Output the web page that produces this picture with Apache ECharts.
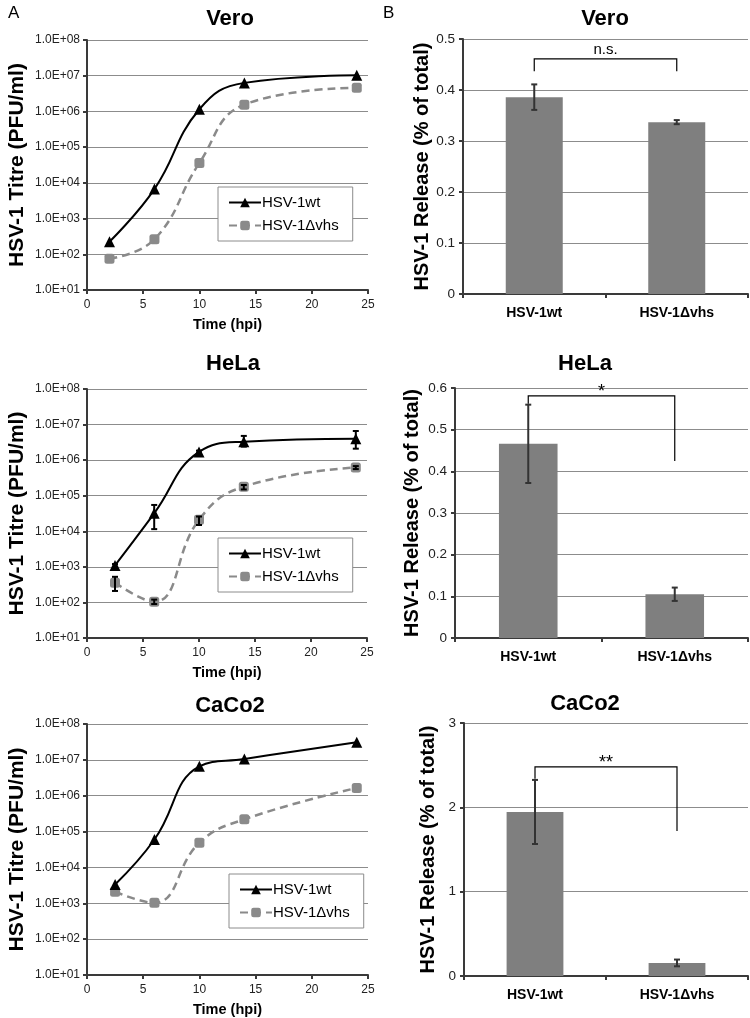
<!DOCTYPE html>
<html>
<head>
<meta charset="utf-8">
<script src="https://cdn.jsdelivr.net/npm/echarts@6/dist/echarts.min.js"></script>
<style>
html,body{margin:0;padding:0;background:#fff;}
#chart{width:750px;height:1018px;}
</style>
</head>
<body>
<div id="chart"></div>
<script>
// ---------- DATA ----------
const veroTime = [2, 6, 10, 14, 24];
const helaTime = [2.5, 6, 10, 14, 24];
const caco2Time = [2.5, 6, 10, 14, 24];

const veroWt  = [225, 6700, 1.15e6, 6.3e6, 1.03e7];
const veroVhs = [75, 263, 3.6e4, 1.55e6, 4.6e6];

const helaWt      = [1100, 3.2e4, 1.7e6, 3.3e6, 4.0e6];
const helaWtLow   = [1000, 1.15e4, 1.55e6, 2.4e6, 2.1e6];
const helaWtHigh  = [1200, 5.5e4, 1.85e6, 4.8e6, 6.6e6];
const helaVhs     = [360, 104, 2.1e4, 1.8e5, 6.2e5];
const helaVhsLow  = [210, 90, 1.5e4, 1.5e5, 5.6e5];
const helaVhsHigh = [525, 120, 2.6e4, 2.0e5, 6.8e5];

const caco2Wt  = [3350, 6.0e4, 6.6e6, 1.06e7, 3.1e7];
const caco2Vhs = [2100, 1030, 4.9e4, 2.2e5, 1.65e6];

const strains = ['HSV-1wt', 'HSV-1\u0394vhs'];
const veroRelease  = [0.386, 0.337];
const veroErr      = [0.025, 0.004];
const helaRelease  = [0.466, 0.105];
const helaErr      = [0.094, 0.016];
const caco2Release = [1.945, 0.155];
const caco2Err     = [0.38, 0.04];

// bracket: [top, left leg bottom, right leg bottom]
const veroBracket  = [0.461, 0.437, 0.437];
const helaBracket  = [0.581, 0.562, 0.425];
const caco2Bracket = [2.48, 2.34, 1.72];
const bracketLabels = ['n.s.', '*', '**'];

const titles = ['Vero', 'HeLa', 'CaCo2'];

// ---------- CHART ----------
const FONT = 'Liberation Sans, Arial, sans-serif';
const chart = echarts.init(document.getElementById('chart'));

const lineGrids = [
  {left: 87, top: 40, width: 281, height: 250},
  {left: 87, top: 389, width: 280, height: 249},
  {left: 87, top: 724, width: 281, height: 252}
];
const barGrids = [
  {left: 463, top: 39, width: 285, height: 255},
  {left: 455, top: 388, width: 293, height: 250},
  {left: 464, top: 723, width: 284, height: 253}
];
const barMax = [0.5, 0.6, 3];
const barInterval = [0.1, 0.1, 1];
const barNameGap = [30, 33, 26];

function expFmt(v) {
  const e = Math.round(Math.log10(v));
  return '1.0E+' + (e < 10 ? '0' + e : e);
}

const grids = [], xAxes = [], yAxes = [], series = [], legends = [];

const axisLineStyle = {color: '#3a3a3a', width: 2};
const gridLine = {show: true, lineStyle: {color: '#8c8c8c', width: 1}};

const lineSets = [
  {t: veroTime, wt: veroWt, vhs: veroVhs},
  {t: helaTime, wt: helaWt, vhs: helaVhs, wtLo: helaWtLow, wtHi: helaWtHigh, vLo: helaVhsLow, vHi: helaVhsHigh},
  {t: caco2Time, wt: caco2Wt, vhs: caco2Vhs}
];
const legendPos = [
  {left: 218, top: 187},
  {left: 218, top: 538},
  {left: 229, top: 874}
];

lineSets.forEach((s, i) => {
  grids.push(lineGrids[i]);
  const gi = grids.length - 1;
  xAxes.push({
    gridIndex: gi, type: 'value', min: 0, max: 25, interval: 5,
    name: 'Time (hpi)', nameLocation: 'middle', nameGap: 27,
    nameTextStyle: {fontFamily: FONT, fontWeight: 'bold', fontSize: 14.5, color: '#000'},
    axisLine: {lineStyle: axisLineStyle}, axisTick: {show: true, length: 4, lineStyle: {color: '#3a3a3a', width: 2}},
    axisLabel: {fontFamily: FONT, fontSize: 12, color: '#222', margin: 9},
    splitLine: {show: false}
  });
  yAxes.push({
    gridIndex: gi, type: 'log', logBase: 10, min: 10, max: 1e8,
    name: 'HSV-1 Titre (PFU/ml)', nameLocation: 'middle', nameGap: 59, nameRotate: 90,
    nameTextStyle: {fontFamily: FONT, fontWeight: 'bold', fontSize: 21, color: '#000'},
    axisLine: {show: true, lineStyle: axisLineStyle}, axisTick: {show: true, length: 4, lineStyle: {color: '#3a3a3a', width: 2}},
    axisLabel: {fontFamily: FONT, fontSize: 12, color: '#222', margin: 7, formatter: expFmt},
    splitLine: gridLine, minorTick: {show: false}
  });
  series.push({
    name: strains[0], type: 'line', xAxisIndex: gi, yAxisIndex: gi, smooth: 0.45,
    data: s.t.map((x, k) => [x, s.wt[k]]),
    symbol: 'triangle', symbolSize: 11,
    itemStyle: {color: '#000'}, lineStyle: {color: '#000', width: 2}, z: 4
  });
  series.push({
    name: strains[1], type: 'line', xAxisIndex: gi, yAxisIndex: gi, smooth: 0.45,
    data: s.t.map((x, k) => [x, s.vhs[k]]),
    symbol: 'roundRect', symbolSize: 10,
    itemStyle: {color: '#8a8a8a'}, lineStyle: {color: '#8a8a8a', width: 2.5, type: [8, 5]}, z: 3
  });
  if (s.wtLo) {
    const errData = [];
    s.t.forEach((x, k) => { errData.push([x, s.wtLo[k], s.wtHi[k]]); errData.push([x, s.vLo[k], s.vHi[k]]); });
    series.push({
      type: 'custom', xAxisIndex: gi, yAxisIndex: gi, z: 6, silent: true,
      data: errData,
      renderItem: function (params, api) {
        const lo = api.coord([api.value(0), api.value(1)]);
        const hi = api.coord([api.value(0), api.value(2)]);
        const w = 3;
        const st = {stroke: '#000', lineWidth: 2};
        return {type: 'group', children: [
          {type: 'line', shape: {x1: lo[0], y1: lo[1], x2: hi[0], y2: hi[1]}, style: st},
          {type: 'line', shape: {x1: lo[0] - w, y1: lo[1], x2: lo[0] + w, y2: lo[1]}, style: st},
          {type: 'line', shape: {x1: hi[0] - w, y1: hi[1], x2: hi[0] + w, y2: hi[1]}, style: st}
        ]};
      }
    });
  }
  legends.push({
    left: legendPos[i].left, top: legendPos[i].top, orient: 'vertical',
    data: strains, backgroundColor: '#fff', borderColor: '#8c8c8c', borderWidth: 1,
    padding: [8, 14, 8, 10], itemGap: 8, itemWidth: 32, itemHeight: 12,
    textStyle: {fontFamily: FONT, fontSize: 15, color: '#000', padding: [0, 0, 0, -4]},
    selectedMode: false
  });
});

const barSets = [
  {v: veroRelease, e: veroErr, b: veroBracket},
  {v: helaRelease, e: helaErr, b: helaBracket},
  {v: caco2Release, e: caco2Err, b: caco2Bracket}
];

barSets.forEach((s, i) => {
  grids.push(barGrids[i]);
  const gi = grids.length - 1;
  xAxes.push({
    gridIndex: gi, type: 'category', data: strains,
    axisLine: {lineStyle: axisLineStyle}, axisTick: {show: true, length: 4, lineStyle: {color: '#3a3a3a', width: 2}},
    axisLabel: {fontFamily: FONT, fontSize: 14, fontWeight: 'bold', color: '#000', margin: 12},
    splitLine: {show: false}
  });
  yAxes.push({
    gridIndex: gi, type: 'value', min: 0, max: barMax[i], interval: barInterval[i],
    name: 'HSV-1 Release (% of total)', nameLocation: 'middle', nameGap: barNameGap[i], nameRotate: 90,
    nameTextStyle: {fontFamily: FONT, fontWeight: 'bold', fontSize: 20, color: '#000'},
    axisLine: {show: true, lineStyle: axisLineStyle}, axisTick: {show: true, length: 4, lineStyle: {color: '#3a3a3a', width: 2}},
    axisLabel: {fontFamily: FONT, fontSize: 13.5, color: '#222', margin: 8},
    splitLine: gridLine
  });
  series.push({
    type: 'bar', xAxisIndex: gi, yAxisIndex: gi, data: s.v, barWidth: '40%',
    itemStyle: {color: '#7f7f7f'}, silent: true
  });
  series.push({
    type: 'custom', xAxisIndex: gi, yAxisIndex: gi, z: 5, silent: true,
    data: s.v.map((v, k) => [k, v - s.e[k], v + s.e[k]]),
    renderItem: function (params, api) {
      const lo = api.coord([api.value(0), api.value(1)]);
      const hi = api.coord([api.value(0), api.value(2)]);
      const w = 3;
      const st = {stroke: '#333', lineWidth: 2};
      return {type: 'group', children: [
        {type: 'line', shape: {x1: lo[0], y1: lo[1], x2: hi[0], y2: hi[1]}, style: st},
        {type: 'line', shape: {x1: lo[0] - w, y1: lo[1], x2: lo[0] + w, y2: lo[1]}, style: st},
        {type: 'line', shape: {x1: hi[0] - w, y1: hi[1], x2: hi[0] + w, y2: hi[1]}, style: st}
      ]};
    }
  });
  const lbl = bracketLabels[i];
  series.push({
    type: 'custom', xAxisIndex: gi, yAxisIndex: gi, z: 6, silent: true,
    data: [[0, s.b[0], s.b[1], s.b[2]]],
    renderItem: function (params, api) {
      const a = api.coord([0, api.value(1)]);
      const b = api.coord([1, api.value(1)]);
      const la = api.coord([0, api.value(2)]);
      const rb = api.coord([1, api.value(3)]);
      const st = {stroke: '#000', lineWidth: 1.2, fill: null};
      return {type: 'group', children: [
        {type: 'polyline', shape: {points: [[la[0], la[1]], [a[0], a[1]], [b[0], b[1]], [rb[0], rb[1]]]}, style: st},
        {type: 'text', x: (a[0] + b[0]) / 2, y: a[1] - (lbl === 'n.s.' ? 2 : -5),
          style: {text: lbl, fontFamily: FONT, fontSize: lbl === 'n.s.' ? 15 : 18, fill: '#000', align: 'center', verticalAlign: 'bottom'}}
      ]};
    }
  });
});

const titleOpts = [];
const titlePos = [[225, 3], [228, 348], [225, 690], [600, 3], [580, 348], [580, 688]];
[0, 1, 2, 0, 1, 2].forEach((ti, k) => {
  titleOpts.push({
    text: titles[ti], left: titlePos[k][0], top: titlePos[k][1], textAlign: 'center',
    textStyle: {fontFamily: FONT, fontWeight: 'bold', fontSize: 22, color: '#000'}
  });
});
titleOpts.push({text: 'A', left: 3, top: 0, textStyle: {fontFamily: FONT, fontWeight: 'normal', fontSize: 17, color: '#000'}});
titleOpts.push({text: 'B', left: 378, top: 0, textStyle: {fontFamily: FONT, fontWeight: 'normal', fontSize: 17, color: '#000'}});

chart.setOption({
  animation: false,
  backgroundColor: '#fff',
  title: titleOpts,
  legend: legends,
  grid: grids,
  xAxis: xAxes,
  yAxis: yAxes,
  series: series
});
</script>
</body>
</html>
